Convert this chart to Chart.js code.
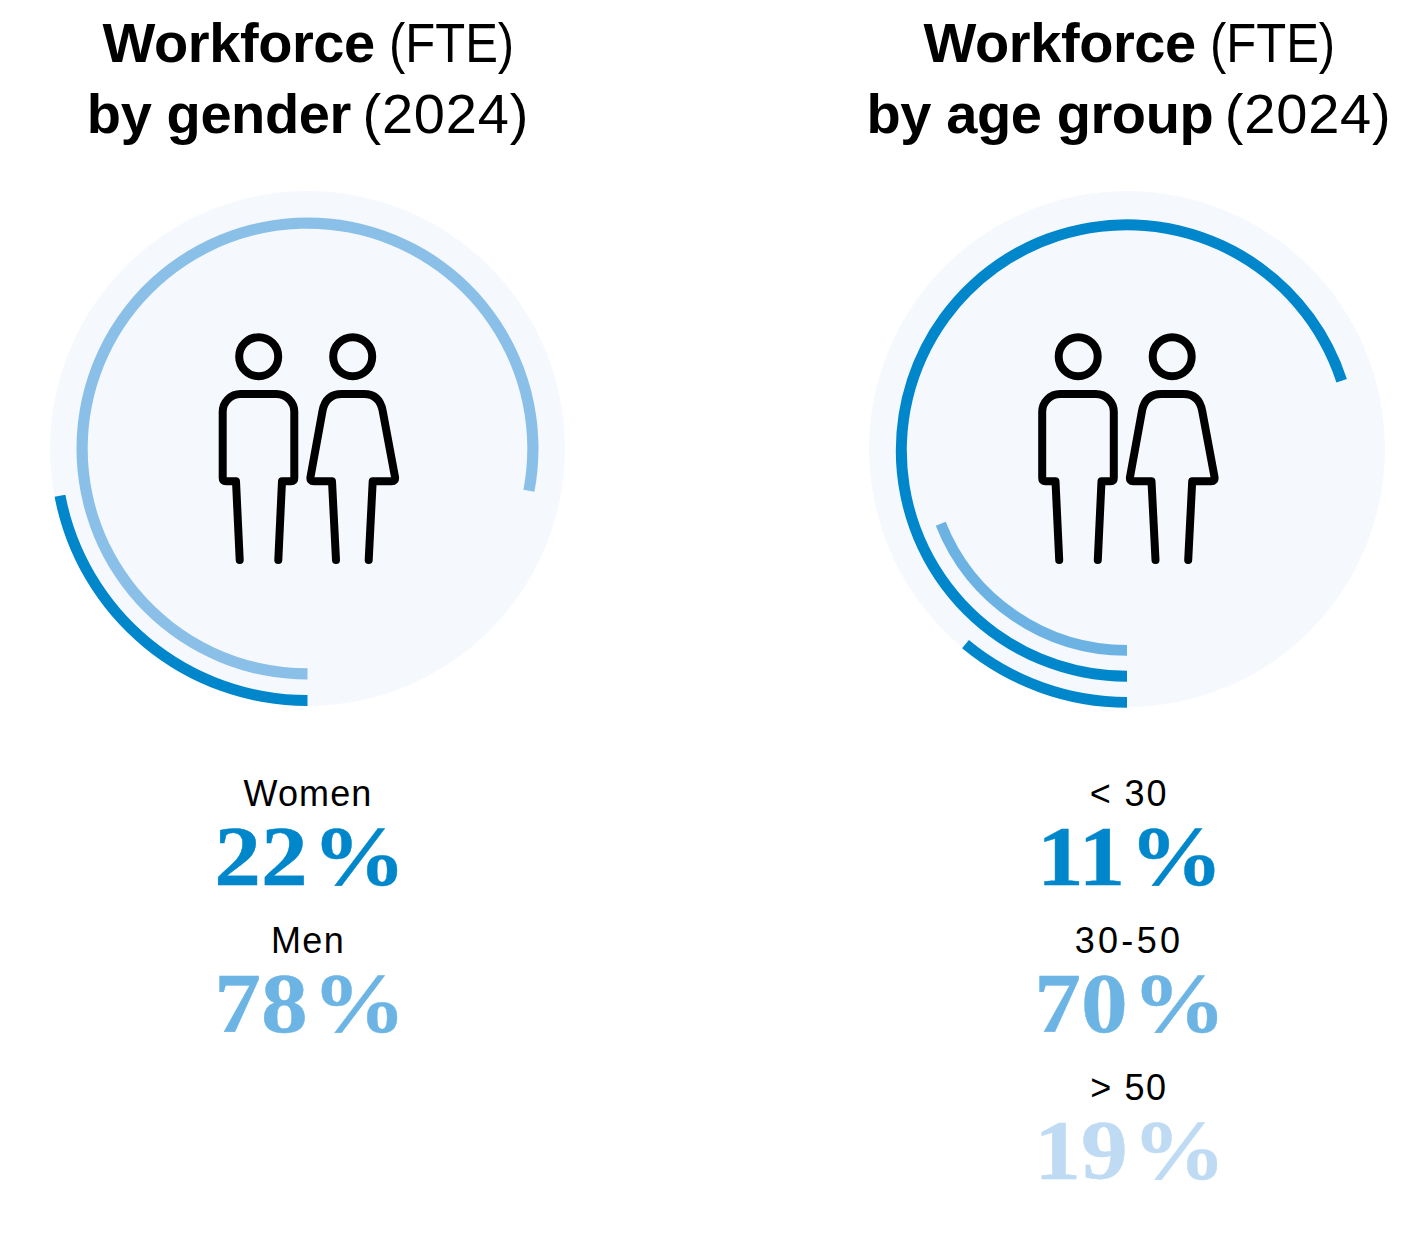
<!DOCTYPE html>
<html><head><meta charset="utf-8">
<script src="https://cdn.jsdelivr.net/npm/chart.js@4/dist/chart.umd.min.js"></script>
<style>
html,body{margin:0;padding:0;background:#fff;width:1420px;height:1249px;overflow:hidden}
#stage{position:relative;width:1420px;height:1249px}
canvas{position:absolute}
.t{position:absolute;white-space:nowrap;text-align:center;width:800px;color:#000}
.title{font:400 56px/72px "Liberation Sans",Arial,sans-serif;word-spacing:-4px}
.title b{font-weight:700;word-spacing:0;letter-spacing:-.4px}
.fte{display:inline-block;transform:scaleX(.875);transform-origin:0 50%;margin-left:2.5px;margin-right:-18px}
.label{font:400 36px/44px "Liberation Sans",Arial,sans-serif}
.value{font:700 85px/90px "Liberation Serif",serif;word-spacing:-17.3px;-webkit-text-stroke:.4px currentColor;transform:scaleX(1.1)}
svg{position:absolute;left:0;top:0;pointer-events:none}
svg path,svg circle{fill:none;stroke:#000;stroke-width:8;stroke-linecap:round;stroke-linejoin:round}
</style></head><body><div id="stage"></div>
<script>
const genderCategories = ["Women", "Men"];
const genderValues = [22, 78];
const ageCategories = ["< 30", "30-50", "> 50"];
const ageValues = [11, 70, 19];
const genderRingColors = ["#0086CA", "#8ABFE8"];
const ageRingColors = ["#0086CA", "#0086CA", "#6CB3E3"];
const genderTextColors = ["#0086CA", "#6CB4E4"];
const ageTextColors = ["#0086CA", "#6CB4E4", "#BFDBF3"];
const genderTracking = [1.1, 1.4];
const ageTracking = [1.9, 3.3, 1.6];

const stage = document.getElementById("stage");
const discPlugin = {
  id: "disc",
  beforeDatasetsDraw(chart) {
    const c = chart.ctx, a = chart.chartArea;
    c.save(); c.fillStyle = "#F5F9FE"; c.beginPath();
    c.arc((a.left + a.right) / 2, (a.top + a.bottom) / 2, chart.config._config.discRadius, 0, Math.PI * 2);
    c.fill(); c.restore();
  },
  beforeDatasetDraw(chart, args) {
    chart.ctx.save();
    chart.ctx.translate(0, chart.data.datasets[args.index].shiftY || 0);
  },
  afterDatasetDraw(chart) { chart.ctx.restore(); }
};
function ringDatasets(values, colors, bands, gaps, shifts) {
  const out = [];
  values.forEach((v, i) => {
    if (i) out.push({ data: [], weight: gaps[i - 1], borderWidth: 0 });
    out.push({ data: [v, 100 - v], backgroundColor: [colors[i], "rgba(0,0,0,0)"], borderWidth: 0, weight: bands[i], shiftY: shifts[i] });
  });
  return out;
}
function ring(left, top, size, discRadius, radius, inner, cats, values, colors, bands, gaps, shifts) {
  const cv = document.createElement("canvas");
  cv.width = size; cv.height = size;
  cv.style.cssText = `left:${left}px;top:${top}px;width:${size}px;height:${size}px`;
  stage.appendChild(cv);
  return new Chart(cv, {
    type: "doughnut",
    discRadius,
    data: { labels: cats, datasets: ringDatasets(values, colors, bands, gaps, shifts) },
    options: {
      responsive: false, maintainAspectRatio: false, animation: false,
      rotation: 180, radius, cutout: (inner / radius * 100) + "%",
      layout: { padding: 0 },
      plugins: { legend: { display: false }, tooltip: { enabled: false } }
    },
    plugins: [discPlugin]
  });
}
ring(49, 190, 517, 257.5, 257.5, 219.8, genderCategories, genderValues, genderRingColors, [11, 11.2], [15.5], [0, 0]);
ring(867, 189, 520, 258, 258.7, 195, ageCategories, ageValues, ageRingColors, [10.7, 11, 10.7], [16.8, 14.5], [0, 1.5, 1]);

function place(cls, html, cx, baseline, fs, lh, asc, desc, color, tracking) {
  const d = document.createElement("div");
  d.className = "t " + cls;
  d.innerHTML = html;
  d.style.left = (cx - 400) + "px";
  d.style.top = (baseline - ((lh - (asc + desc) * fs) / 2 + asc * fs)) + "px";
  if (color) d.style.color = color;
  if (tracking) d.style.letterSpacing = tracking + "px";
  stage.appendChild(d);
}
const esc = s => s.replace(/&/g, "&amp;").replace(/</g, "&lt;").replace(/>/g, "&gt;");
function titles(cx, line2) {
  place("title", '<b>Workforce</b> <span class="fte">(FTE)</span>', cx + 0.25, 62, 56, 72, .905, .212);
  place("title", line2 + ' <span style="letter-spacing:.8px">(2024)</span>', cx, 133, 56, 72, .905, .212);
}
titles(308, "<b>by gender</b>");
titles(1129, "<b>by age group</b>");
function legendBlock(cx, valueShift, cats, vals, colors, tracking) {
  cats.forEach((c, i) => {
    place("label", esc(c), cx, 806 + 147 * i, 36, 44, .905, .212, null, tracking[i]);
    place("value", vals[i] + " %", cx + valueShift, 885 + 147 * i, 85, 90, .891, .216, colors[i]);
  });
}
legendBlock(308, 2, genderCategories, genderValues, genderTextColors, genderTracking);
legendBlock(1129, 1, ageCategories, ageValues, ageTextColors, ageTracking);

const NS = "http://www.w3.org/2000/svg";
const svg = document.createElementNS(NS, "svg");
svg.setAttribute("width", 1420); svg.setAttribute("height", 1249);
function icon(dx) {
  const g = document.createElementNS(NS, "g");
  g.setAttribute("transform", `translate(${dx},0)`);
  g.innerHTML =
    '<circle cx="258.7" cy="356.7" r="19.5"/><circle cx="352.7" cy="356.7" r="19.5"/>' +
    '<path d="M239.7 560 L236 481.3 H226 Q222.7 481.3 222.7 478 V412 A18 18 0 0 1 240.7 394 H276.3 A18 18 0 0 1 294.3 412 V478 Q294.3 481.3 291 481.3 H282 L278.3 560"/>' +
    '<path d="M336 560 L332 481.3 H314 Q309.7 481.3 310.5 477 L322.5 411 Q325.7 394 342 394 H364 Q379.5 394 382.7 411 L395 477 Q395.7 481.3 391.5 481.3 H372.7 L368.7 560"/>';
  svg.appendChild(g);
}
icon(0); icon(819.5);
stage.appendChild(svg);
</script></body></html>
